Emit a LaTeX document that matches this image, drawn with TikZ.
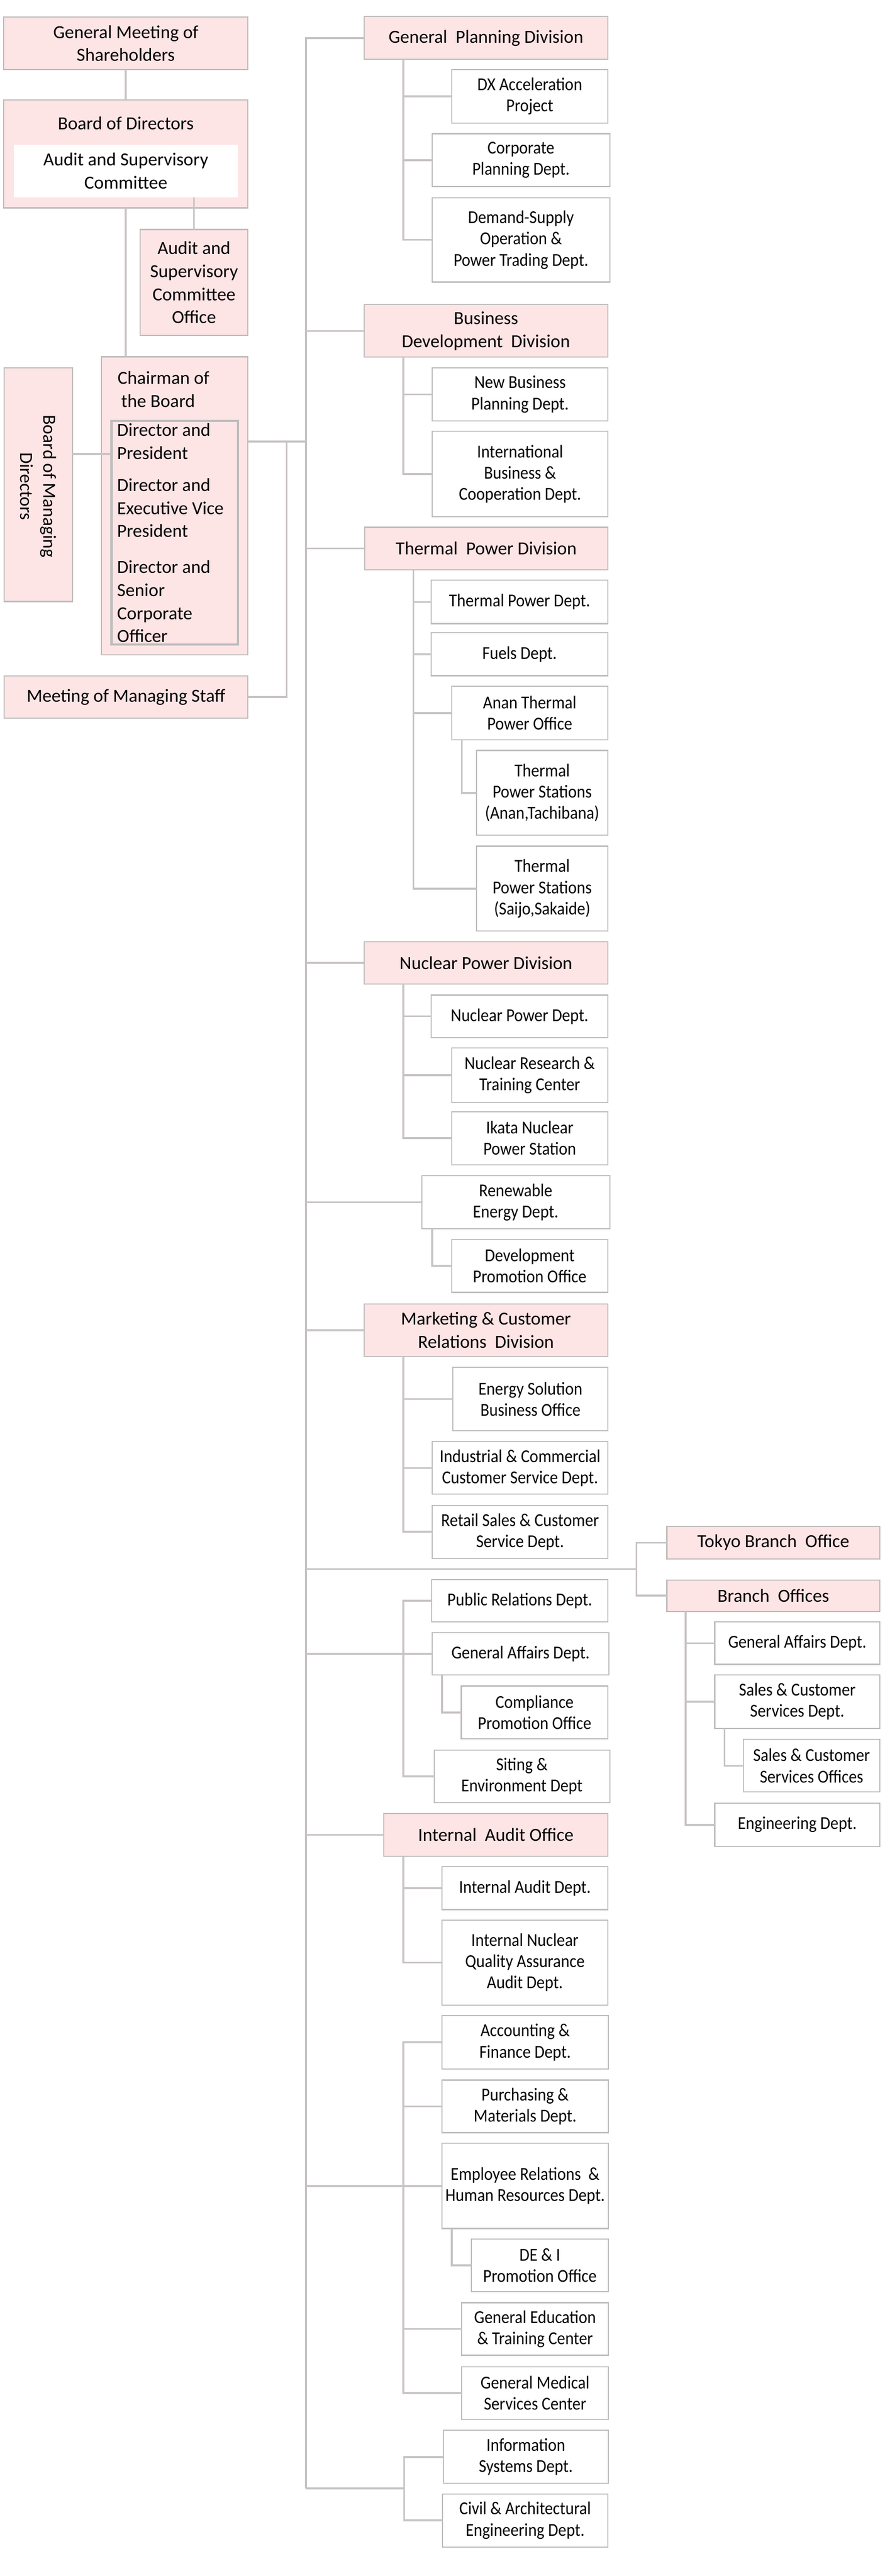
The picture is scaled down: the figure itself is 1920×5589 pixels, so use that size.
\documentclass[tikz,border=0pt]{standalone}
\usepackage{fontspec}
\setmainfont{Carlito}
\newfontfamily\orgsubfam{Carlito}[FakeStretch=0.9]
\usetikzlibrary{calc}
\definecolor{pinkC}{RGB}{253,228,229}
\definecolor{bordC}{RGB}{190,188,189}
\definecolor{lineC}{RGB}{200,195,197}
\newcommand\orgdivfont{\fontsize{40}{50}\selectfont}
\newcommand\orgsubfont{\orgsubfam\fontsize{39.5}{46}\selectfont}
\newcommand\orgbox[7]{%
  \pgfmathsetmacro\bw{#5-#3}\pgfmathsetmacro\bh{#6-#4}%
  \pgfmathsetmacro\bcx{(#3+#5)/2}\pgfmathsetmacro\bcy{(#4+#6)/2}%
  \node[#1, minimum width=\bw pt, minimum height=\bh pt] (#2) at (\bcx,\bcy) {#7};}
\begin{document}
\begin{tikzpicture}[x=1pt,y=-1pt,
  conn/.style={draw=lineC, line width=4pt},
  divbox/.style={draw=bordC, line width=2.4pt, fill=pinkC, align=center, font=\orgdivfont, inner sep=0pt, outer sep=0pt},
  subbox/.style={draw=bordC, line width=2.4pt, fill=white, align=center, font=\orgsubfont, inner sep=0pt, outer sep=0pt},
  whitebox/.style={fill=white, align=center, font=\orgdivfont, inner sep=0pt, outer sep=0pt},
  innerbox/.style={draw=bordC, line width=4.5pt, fill=pinkC, inner sep=0pt, outer sep=0pt},
  lbl/.style={align=center, font=\orgdivfont, inner sep=0pt},
  lbll/.style={align=left, font=\orgdivfont, inner sep=0pt, anchor=west}]
\fill[white] (0,0) rectangle (1920,5589);
\useasboundingbox (0,0) rectangle (1920,5589);

% ---------- left column ----------
\orgbox{divbox}{gm}{8}{37}{538}{151}{General Meeting of\\Shareholders}
\orgbox{divbox}{bod}{8}{217}{538}{451}{}
\node[lbl] (bodT) at (273,267) {Board of Directors};
\orgbox{whitebox}{asc}{30}{314}{516}{428}{Audit and Supervisory\\Committee}
\orgbox{divbox}{asco}{304}{498}{538}{728}{Audit and\\Supervisory\\Committee\\Office}
\orgbox{divbox}{chair}{220}{774}{538}{1421}{}
\node[lbll] (chairT) at (255,845) {Chairman of\\\hspace*{8pt}the Board};
\orgbox{innerbox}{inbox}{242}{913}{516}{1398}{}
\node[lbll] (dp) at (254,958) {Director and\\President};
\node[lbll] (dev) at (254,1102) {Director and\\Executive Vice\\President};
\node[lbll] (dsc) at (254,1305) {Director and\\Senior\\Corporate\\Officer};
\orgbox{divbox}{bmd}{9}{798}{158}{1305}{}
\node[lbl, rotate=-90] (bmdT) at (83,1055) {Board of Managing\\Directors};
\orgbox{divbox}{mms}{9}{1467}{538}{1558}{Meeting of Managing Staff}

% ---------- divisions ----------
\orgbox{divbox}{gpd}{790}{36}{1319}{129}{General\ \ Planning Division}
\orgbox{divbox}{bdd}{790}{661}{1319}{775}{Business\\Development\ \ Division}
\orgbox{divbox}{tpd}{791}{1144}{1319}{1236}{Thermal\ \ Power Division}
\orgbox{divbox}{npd}{790}{2043}{1319}{2135}{Nuclear Power Division}
\orgbox{divbox}{mcr}{790}{2829}{1319}{2943}{Marketing \& Customer\\Relations\ \ Division}
\orgbox{divbox}{iao}{833}{3935}{1319}{4027}{Internal\ \ Audit Office}
\orgbox{divbox}{tbo}{1447}{3312}{1909}{3382}{Tokyo Branch\ \ Office}
\orgbox{divbox}{bo}{1447}{3428}{1909}{3496}{Branch\ \ Offices}

% ---------- departments ----------
\orgbox{subbox}{dx}{980}{151}{1319}{267}{DX Acceleration\\Project}
\orgbox{subbox}{cpd}{938}{290}{1323}{405}{Corporate\\Planning Dept.}
\orgbox{subbox}{dsp}{938}{429}{1323}{612}{Demand-Supply\\Operation \&\\Power Trading Dept.}
\orgbox{subbox}{nbp}{938}{798}{1319}{913}{New Business\\Planning Dept.}
\orgbox{subbox}{ibc}{938}{936}{1319}{1121}{International\\Business \&\\Cooperation Dept.}
\orgbox{subbox}{tpdd}{936}{1259}{1319}{1353}{Thermal Power Dept.}
\orgbox{subbox}{fuel}{936}{1373}{1319}{1466}{Fuels Dept.}
\orgbox{subbox}{anan}{980}{1489}{1319}{1605}{Anan Thermal\\Power Office}
\orgbox{subbox}{tpsa}{1034}{1628}{1319}{1812}{Thermal\\Power Stations\\(Anan,Tachibana)}
\orgbox{subbox}{tpsb}{1034}{1836}{1319}{2020}{Thermal\\Power Stations\\(Saijo,Sakaide)}
\orgbox{subbox}{npdd}{936}{2159}{1319}{2251}{Nuclear Power Dept.}
\orgbox{subbox}{nrtc}{980}{2274}{1319}{2392}{Nuclear Research \&\\Training Center}
\orgbox{subbox}{ikata}{980}{2412}{1319}{2527}{Ikata Nuclear\\Power Station}
\orgbox{subbox}{red}{915}{2551}{1323}{2666}{Renewable\\Energy Dept.}
\orgbox{subbox}{dpo}{980}{2689}{1319}{2804}{Development\\Promotion Office}
\orgbox{subbox}{esbo}{983}{2967}{1319}{3104}{Energy Solution\\Business Office}
\orgbox{subbox}{icc}{938}{3128}{1319}{3242}{Industrial \& Commercial\\Customer Service Dept.}
\orgbox{subbox}{rsc}{938}{3266}{1319}{3381}{Retail Sales \& Customer\\Service Dept.}
\orgbox{subbox}{prd}{937}{3427}{1319}{3519}{Public Relations Dept.}
\orgbox{subbox}{gad}{938}{3542}{1321}{3634}{General Affairs Dept.}
\orgbox{subbox}{cpo}{1001}{3658}{1319}{3773}{Compliance\\Promotion Office}
\orgbox{subbox}{sed}{942}{3797}{1323}{3911}{Siting \&\\Environment Dept}
\orgbox{subbox}{iad}{959}{4050}{1319}{4143}{Internal Audit Dept.}
\orgbox{subbox}{inqa}{959}{4166}{1319}{4350}{Internal Nuclear\\Quality Assurance\\Audit Dept.}
\orgbox{subbox}{afd}{959}{4373}{1320}{4489}{Accounting \&\\Finance Dept.}
\orgbox{subbox}{pmd}{959}{4513}{1320}{4627}{Purchasing \&\\Materials Dept.}
\orgbox{subbox}{erhr}{959}{4650}{1320}{4835}{Employee Relations\ \ \&\\Human Resources Dept.}
\orgbox{subbox}{dei}{1023}{4858}{1320}{4972}{DE \& I\\Promotion Office}
\orgbox{subbox}{getc}{1002}{4996}{1320}{5110}{General Education\\\& Training Center}
\orgbox{subbox}{gmsc}{1002}{5135}{1320}{5249}{General Medical\\Services Center}
\orgbox{subbox}{isd}{962}{5273}{1320}{5388}{Information\\Systems Dept.}
\orgbox{subbox}{cae}{960}{5411}{1319}{5526}{Civil \& Architectural\\Engineering Dept.}
\orgbox{subbox}{bga}{1551}{3519}{1909}{3611}{General Affairs Dept.}
\orgbox{subbox}{bsc}{1551}{3634}{1909}{3750}{Sales \& Customer\\Services Dept.}
\orgbox{subbox}{bsco}{1613}{3774}{1909}{3888}{Sales \& Customer\\Services Offices}
\orgbox{subbox}{beng}{1551}{3912}{1909}{4006}{Engineering Dept.}

% ---------- connectors: left column ----------
\draw[conn] (gm.south) -- (bod.north);
\draw[conn] (bod.south) -- (bod.south |- chair.north);
\draw[conn] (asco.north) -- (asco.north |- asc.south);
\coordinate (bmdE) at (158,985);
\draw[conn] (bmdE) -- (bmdE -| inbox.west);
\coordinate (chairE) at (538,958);
\coordinate (trunkTop) at (664,83);
\coordinate (trunkBot) at (664,5399);
\coordinate (mmsJ) at (622,958);
\draw[conn] (chairE) -- (chairE -| trunkTop);
\draw[conn] (mms.east) -| (mmsJ);

% ---------- trunk ----------
\draw[conn] (gpd.west) -| (trunkBot);
\draw[conn] (bdd.west) -- (bdd.west -| trunkTop);
\draw[conn] (tpd.west) -- (tpd.west -| trunkTop);
\draw[conn] (npd.west) -- (npd.west -| trunkTop);
\draw[conn] (red.west) -- (red.west -| trunkTop);
\draw[conn] (mcr.west) -- (mcr.west -| trunkTop);
\draw[conn] (gad.west) -- (gad.west -| trunkTop);
\draw[conn] (iao.west) -- (iao.west -| trunkTop);
\draw[conn] (erhr.west) -- (erhr.west -| trunkTop);

% general planning
\coordinate (gpdS) at (875,129);
\draw[conn] (gpdS) |- (dsp.west);
\draw[conn] (dx.west) -- (dx.west -| gpdS);
\draw[conn] (cpd.west) -- (cpd.west -| gpdS);
% business development
\coordinate (bddS) at (875,775);
\draw[conn] (bddS) |- (ibc.west);
\draw[conn] (nbp.west) -- (nbp.west -| bddS);
% thermal
\coordinate (tpdS) at (897,1236);
\draw[conn] (tpdS) |- (tpsb.west);
\draw[conn] (tpdd.west) -- (tpdd.west -| tpdS);
\draw[conn] (fuel.west) -- (fuel.west -| tpdS);
\draw[conn] (anan.west) -- (anan.west -| tpdS);
\coordinate (ananS) at (1002,1605);
\draw[conn] (ananS) |- (tpsa.west);
% nuclear
\coordinate (npdS) at (875,2135);
\draw[conn] (npdS) |- (ikata.west);
\draw[conn] (npdd.west) -- (npdd.west -| npdS);
\draw[conn] (nrtc.west) -- (nrtc.west -| npdS);
% renewable
\coordinate (redS) at (938,2666);
\draw[conn] (redS) |- (dpo.west);
% marketing
\coordinate (mcrS) at (875,2943);
\draw[conn] (mcrS) |- (rsc.west);
\draw[conn] (esbo.west) -- (esbo.west -| mcrS);
\draw[conn] (icc.west) -- (icc.west -| mcrS);
% branches
\coordinate (brJ) at (1381,3404);
\draw[conn] (trunkTop |- brJ) -- (brJ);
\draw[conn] (tbo.west) -| (bo.west -| brJ) -- (bo.west);
\coordinate (boS) at (1488,3496);
\draw[conn] (boS) |- (beng.west);
\draw[conn] (bga.west) -- (bga.west -| boS);
\draw[conn] (bsc.west) -- (bsc.west -| boS);
\coordinate (bscS) at (1572,3750);
\draw[conn] (bscS) |- (bsco.west);
% general affairs group
\coordinate (gaX) at (875,3473);
\draw[conn] (prd.west) -- (gaX) |- (sed.west);
\coordinate (gadS) at (959,3634);
\draw[conn] (gadS) |- (cpo.west);
% internal audit
\coordinate (iaoS) at (875,4027);
\draw[conn] (iaoS) |- (inqa.west);
\draw[conn] (iad.west) -- (iad.west -| iaoS);
% administration group
\coordinate (adX) at (875,4431);
\draw[conn] (afd.west) -- (adX) |- (gmsc.west);
\draw[conn] (pmd.west) -- (pmd.west -| adX);
\draw[conn] (getc.west) -- (getc.west -| adX);
\coordinate (erS) at (980,4835);
\draw[conn] (erS) |- (dei.west);
% last group
\coordinate (lastX) at (877,5399);
\draw[conn] (trunkBot) -- (lastX);
\draw[conn] (isd.west) -| (lastX) |- (cae.west);
\end{tikzpicture}
\end{document}
